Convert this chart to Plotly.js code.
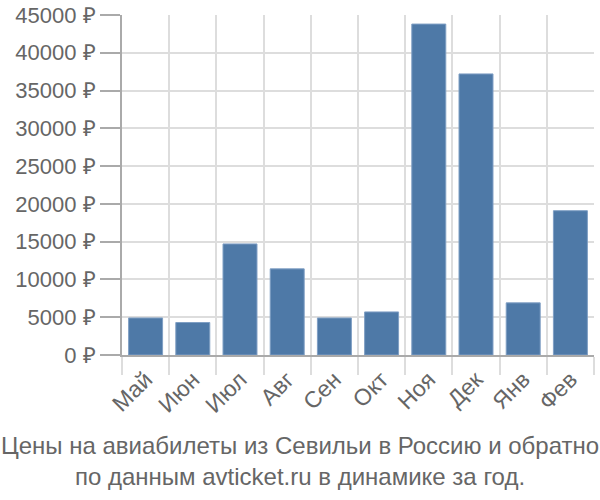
<!DOCTYPE html>
<html>
<head>
<meta charset="utf-8">
<script src="https://cdn.plot.ly/plotly-3.0.1.min.js"></script>
<style>body{margin:0;padding:0;} #plotDiv{width:600px;height:500px;}</style>
</head>
<body>
<div id="plotDiv"></div>
<script>
var months = ['Май', 'Июн', 'Июл', 'Авг', 'Сен', 'Окт', 'Ноя', 'Дек', 'Янв', 'Фев'];
var prices = [4900, 4300, 14700, 11400, 4900, 5700, 43800, 37200, 6900, 19100];
var titleLines = ['Цены на авиабилеты из Севильи в Россию и обратно', 'по данным avticket.ru в динамике за год.'];

function makePlot(){
  var trace1 = {
    x: months,
    y: prices,
    type: 'bar',
    marker: {color: '#4e79a7', line: {color: '#7f9fc4', width: 1}},
    hoverinfo: 'none'
  };

  var layout = {
    width: 600,
    height: 500,
    margin: {l: 122, r: 6, t: 15, b: 145},
    paper_bgcolor: '#fff',
    plot_bgcolor: '#fff',
    font: {family: 'Liberation Sans, Arial, sans-serif', size: 22, color: '#666'},
    bargap: 0.28,
    showlegend: false,
    title: {
      text: titleLines.join('<br>'),
      xref: 'container', x: 0.5, xanchor: 'center',
      yref: 'container', y: 0.093, yanchor: 'top',
      font: {size: 24, color: '#666'}
    },
    xaxis: {
      type: 'category',
      tickson: 'boundaries',
      ticks: 'outside',
      ticklen: 18,
      tickcolor: '#ddd',
      tickwidth: 2,
      showgrid: true,
      gridcolor: '#ddd',
      gridwidth: 2,
      tickangle: -45,
      showline: true,
      linecolor: '#aaa',
      linewidth: 2,
      tickfont: {size: 23, color: '#666'}
    },
    yaxis: {
      range: [0, 45000],
      dtick: 5000,
      tickformat: 'd',
      ticksuffix: ' ₽',
      ticks: 'outside',
      ticklen: 20,
      tickcolor: '#aaa',
      tickwidth: 2,
      showgrid: true,
      gridcolor: '#ddd',
      gridwidth: 2,
      showline: true,
      linecolor: '#aaa',
      linewidth: 2,
      zeroline: false,
      tickfont: {size: 22, color: '#666'}
    }
  };

  Plotly.newPlot('plotDiv', [trace1], layout, {displayModeBar: false, staticPlot: true});
}

makePlot();
</script>
</body>
</html>
